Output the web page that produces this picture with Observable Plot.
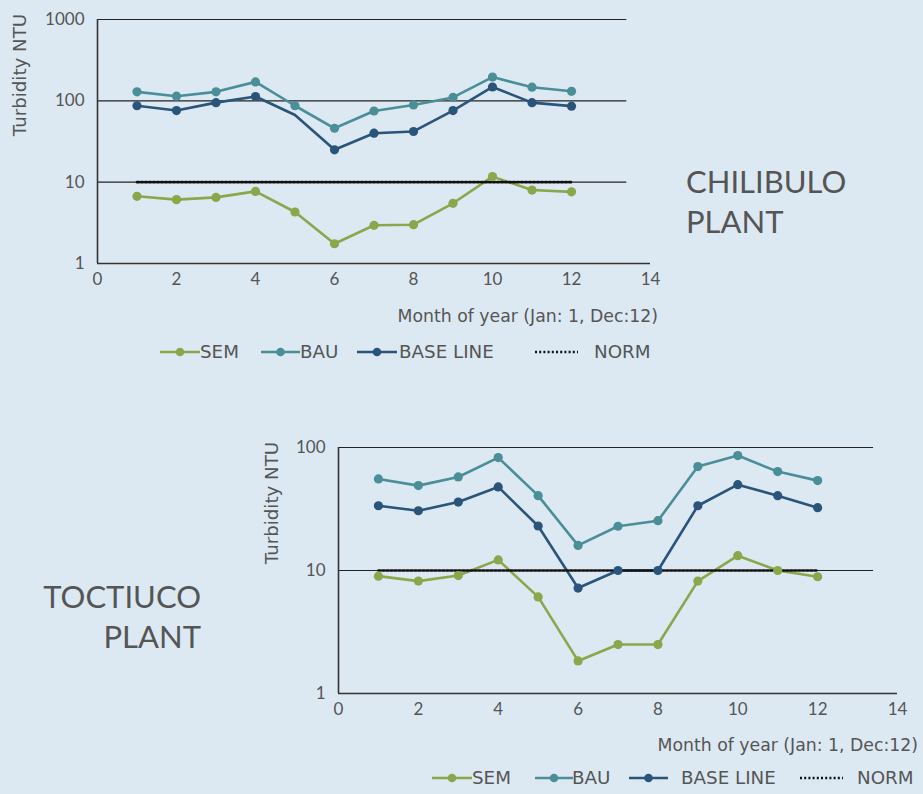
<!DOCTYPE html>
<html><head><meta charset="utf-8">
<script src="https://cdn.jsdelivr.net/npm/d3@7"></script>
<script src="https://cdn.jsdelivr.net/npm/@observablehq/plot@0.6"></script>
<style>
html,body{margin:0;padding:0;background:#dce9f2;}
body{width:923px;height:794px;position:relative;overflow:hidden;font-family:Lato,"Open Sans",sans-serif;color:#555;}
.abs{position:absolute;white-space:nowrap;}
.plant{font-size:31px;line-height:30px;color:#555;}
.ylab{font-family:"DejaVu Sans",sans-serif;font-size:18.2px;line-height:18px;transform:translate(-50%,-50%) rotate(-90deg);color:#555;}
.xlab{font-family:"DejaVu Sans",sans-serif;font-size:17.3px;line-height:18px;color:#555;text-align:right;}
.leg{font-family:"DejaVu Sans",sans-serif;font-size:18.3px;line-height:18px;color:#555;}
svg{overflow:visible;}
</style></head><body>
<div id="topChart" class="abs" style="left:0;top:0"></div>
<div id="botChart" class="abs" style="left:240px;top:428px"></div>
<div id="overlay"></div>
<script>
// ---- data ----
const months = [1,2,3,4,5,6,7,8,9,10,11,12];
const xTicks = [0,2,4,6,8,10,12,14];
const xDomain = [0,14];
const gridEnd = 13.4;

const seriesNames = ["SEM","BAU","BASE LINE","NORM"];
const seriesColors = ["#8aa74b","#4a8e98","#2a5479","#111111"];

// Chilibulo plant
const chilSEM  = [6.7,6.1,6.5,7.7,4.3,1.75,2.95,3.0,5.5,11.7,8.0,7.6];
const chilBAU  = [129,114,129,171,87,46,75,89,110,196,147,131];
const chilBASE = [87,76,95,113,67,25,40,42,76,148,95,86];
const chilNORM = [10,10,10,10,10,10,10,10,10,10,10,10];
const chilBaseNoMarker = [5];
const chilYDomain = [1,1000];
const chilYTicks = [1,10,100,1000];
const chilGrid = [10,100,1000];

// Toctiuco plant
const toctSEM  = [9.0,8.2,9.1,12.2,6.1,1.84,2.5,2.5,8.2,13.2,10,8.9];
const toctBAU  = [55.5,49,57.6,82.8,40.6,16,22.9,25.4,70,86,63.7,53.8];
const toctBASE = [33.6,30.6,36,47.8,23,7.2,10,10,33.6,49.9,40.6,32.4];
const toctNORM = [10,10,10,10,10,10,10,10,10,10,10,10];
const toctYDomain = [1,100];
const toctYTicks = [1,10,100];
const toctGrid = [10,100];

const xTitle = "Month of year (Jan: 1, Dec:12)";
const yTitle = "Turbidity NTU";

function rows(vals){ return months.map((m,i)=>({m, v: vals[i]})); }

function chart(o){
  const semC = seriesColors[0], bauC = seriesColors[1], baseC = seriesColors[2], normC = seriesColors[3];
  const baseDots = rows(o.base).filter(d => !(o.noMarker||[]).includes(d.m));
  return Plot.plot({
    width:o.width, height:o.height,
    marginLeft:o.ml, marginRight:o.mr, marginTop:o.mt, marginBottom:o.mb,
    style:{background:"transparent", fontSize:"17px", fontFamily:"Lato, sans-serif", color:"#555"},
    x:{domain:xDomain, ticks:xTicks, tickSize:0, tickPadding:9, label:null},
    y:{type:"log", domain:o.yDomain, ticks:o.yTicks, tickFormat:d=>String(d), tickSize:0, tickPadding:13, label:null},
    marks:[
      Plot.ruleY(o.grid,{x1:xDomain[0],x2:gridEnd,stroke:"#222",strokeWidth:1.2}),
      Plot.ruleX([xDomain[0]],{stroke:"#333",strokeWidth:1.6}),
      Plot.ruleY([o.yDomain[0]],{stroke:"#333",strokeWidth:1.6}),
      Plot.line(rows(o.bau),{x:"m",y:"v",stroke:bauC,strokeWidth:2.6}),
      Plot.line(rows(o.base),{x:"m",y:"v",stroke:baseC,strokeWidth:2.6}),
      Plot.line(rows(o.sem),{x:"m",y:"v",stroke:semC,strokeWidth:2.6}),
      Plot.line(rows(o.norm),{x:"m",y:"v",stroke:normC,strokeWidth:2.6,strokeDasharray:"2,2"}),
      Plot.dot(rows(o.bau),{x:"m",y:"v",fill:bauC,r:4.6}),
      Plot.dot(baseDots,{x:"m",y:"v",fill:baseC,r:4.6}),
      Plot.dot(rows(o.sem),{x:"m",y:"v",fill:semC,r:4.6})
    ]
  });
}

document.getElementById("topChart").append(chart({
  width:680,height:300,ml:97,mr:30,mt:19,mb:37,
  sem:chilSEM,bau:chilBAU,base:chilBASE,norm:chilNORM,noMarker:chilBaseNoMarker,
  yDomain:chilYDomain,yTicks:chilYTicks,grid:chilGrid
}));
document.getElementById("botChart").append(chart({
  width:680,height:300,ml:98,mr:23,mt:19,mb:35,
  sem:toctSEM,bau:toctBAU,base:toctBASE,norm:toctNORM,
  yDomain:toctYDomain,yTicks:toctYTicks,grid:toctGrid
}));

// ---- overlay text & legends ----
const ov = document.getElementById("overlay");
function div(cls, style, text){
  const d = document.createElement("div");
  d.className = "abs " + cls; d.setAttribute("style", style); d.textContent = text;
  ov.append(d); return d;
}
div("plant","left:686px;top:166px","CHILIBULO");
div("plant","left:686px;top:206px","PLANT");
div("plant","right:722px;top:581px;text-align:right","TOCTIUCO");
div("plant","right:722px;top:621px;text-align:right","PLANT");
div("ylab","left:20px;top:75px",yTitle);
div("ylab","left:272px;top:503px",yTitle);
div("xlab","right:265px;top:307px",xTitle);
div("xlab","right:5px;top:736px",xTitle);

function glyph(x1,x2,cy,i){
  const ns="http://www.w3.org/2000/svg";
  const s=document.createElementNS(ns,"svg");
  s.setAttribute("width",x2-x1); s.setAttribute("height",14);
  s.setAttribute("style",`position:absolute;left:${x1}px;top:${cy-7}px`);
  const l=document.createElementNS(ns,"line");
  l.setAttribute("x1",0);l.setAttribute("x2",x2-x1);l.setAttribute("y1",7);l.setAttribute("y2",7);
  l.setAttribute("stroke",seriesColors[i]);l.setAttribute("stroke-width",2.6);
  if(i===3) l.setAttribute("stroke-dasharray","2,2.2");
  s.append(l);
  if(i<3){
    const c=document.createElementNS(ns,"circle");
    c.setAttribute("cx",(x2-x1)/2);c.setAttribute("cy",7);c.setAttribute("r",4.3);c.setAttribute("fill",seriesColors[i]);
    s.append(c);
  }
  ov.append(s);
}
const topLeg = {cy:352, g:[[160,200],[261,300],[357,397],[535,578]], t:[200,300,399,594]};
const botLeg = {cy:778, g:[[432,472],[535,573],[629,668],[800,843]], t:[472,572,681,857]};
for(const L of [topLeg,botLeg]){
  seriesNames.forEach((n,i)=>{
    glyph(L.g[i][0],L.g[i][1],L.cy,i);
    div("leg",`left:${L.t[i]}px;top:${L.cy-9}px`,n);
  });
}
</script>
</body></html>
